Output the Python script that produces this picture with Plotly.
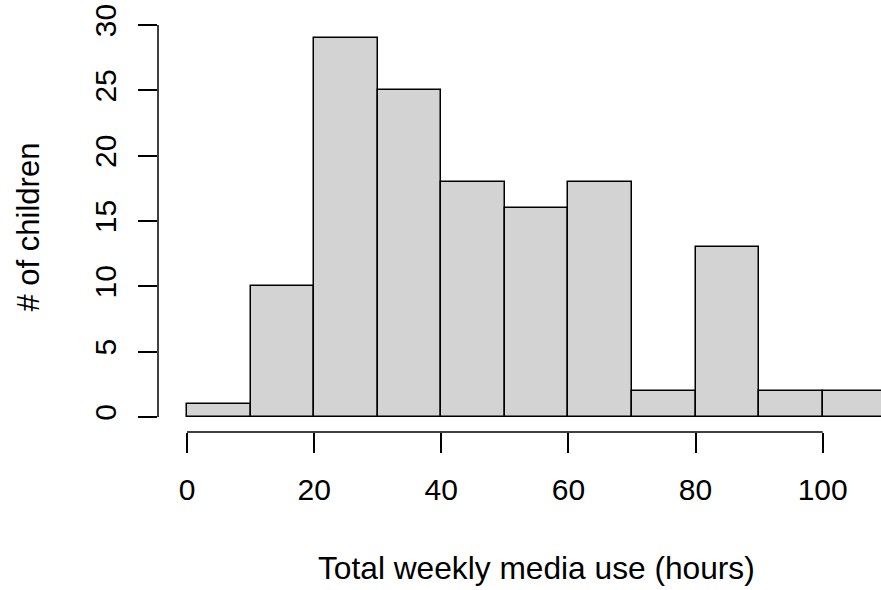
import plotly.graph_objects as go

bin_edges = [0, 10, 20, 30, 40, 50, 60, 70, 80, 90, 100, 110]
counts = [1, 10, 29, 25, 18, 16, 18, 2, 13, 2, 2]
x_ticks = [0, 20, 40, 60, 80, 100]
y_ticks = [0, 5, 10, 15, 20, 25, 30]
x_title = "Total weekly media use (hours)"
y_title = "# of children"

mids = [(bin_edges[i] + bin_edges[i + 1]) / 2 for i in range(len(counts))]
widths = [bin_edges[i + 1] - bin_edges[i] for i in range(len(counts))]

FONT = "Liberation Sans, Arial, Helvetica, sans-serif"
W, H = 881, 590
L, R, T, B = 158, 0, 23, 158

fig = go.Figure(go.Bar(
    x=mids, y=counts, width=widths,
    marker=dict(color="#D3D3D3", line=dict(color="black", width=1.5)),
    hoverinfo="skip",
))

fig.update_layout(
    width=W, height=H,
    margin=dict(l=L, r=R, t=T, b=B, pad=0),
    plot_bgcolor="white", paper_bgcolor="white",
    font=dict(family=FONT, size=30, color="black"),
    showlegend=False,
    bargap=0,
    xaxis=dict(range=[-4.56, 109.17], tickvals=x_ticks, ticktext=[str(v) for v in x_ticks],
               ticks="outside", ticklen=20, tickwidth=1.5, tickcolor="black",
               showline=False, showgrid=False, zeroline=False,
               tickfont=dict(family=FONT, size=30), ticklabelstandoff=11),
    yaxis=dict(range=[-1.15, 30.16], tickvals=y_ticks, ticktext=[str(v) for v in y_ticks],
               ticks="outside", ticklen=19, tickwidth=1.5, tickcolor="black",
               tickangle=-90,
               showline=False, showgrid=False, zeroline=False,
               tickfont=dict(family=FONT, size=30), ticklabelstandoff=10),
    shapes=[
        dict(type="line", xref="x", yref="paper", x0=x_ticks[0], x1=x_ticks[-1], y0=0, y1=0,
             line=dict(color="black", width=1.5)),
        dict(type="line", xref="paper", yref="y", x0=0, x1=0, y0=y_ticks[0], y1=y_ticks[-1],
             line=dict(color="black", width=1.5)),
    ],
    annotations=[
        dict(text=x_title, xref="paper", yref="paper", x=(536 - L) / (W - L - R), y=0,
             xanchor="center", yanchor="middle", yshift=-136, showarrow=False,
             font=dict(family=FONT, size=31.7)),
        dict(text=y_title, xref="paper", yref="paper", x=0, y=0.5, xshift=-130,
             xanchor="center", yanchor="middle", textangle=-90, showarrow=False,
             font=dict(family=FONT, size=31)),
    ],
)

fig.write_html("out.html", config={"displayModeBar": False},
               post_script="document.body.style.margin='0px';document.body.style.overflow='hidden';")
